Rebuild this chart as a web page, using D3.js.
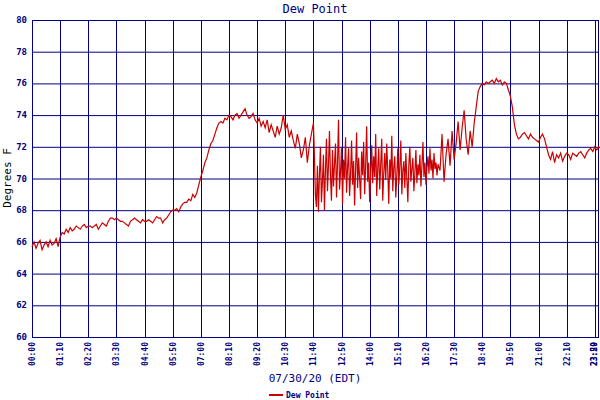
<!DOCTYPE html>
<html><head><meta charset="utf-8">
<script src="https://cdn.jsdelivr.net/npm/d3@7"></script>
<style>body{margin:0;background:#fff}text{font-family:"DejaVu Sans Mono",monospace}</style>
</head><body><svg id="c" width="600" height="400"></svg>
<script>
const xTickLabels=["00:00","01:10","02:20","03:30","04:40","05:50","07:00","08:10","09:20","10:30","11:40","12:50","14:00","15:10","16:20","17:30","18:40","19:50","21:00","22:10","23:20"];
const yTicks=[60,62,64,66,68,70,72,74,76,78,80];
// 5-minute readings, 00:00-11:40
const dewMorning=[65.7,66.0,65.6,65.9,66.1,65.5,65.8,66.0,65.7,66.1,65.8,65.9,66.2,65.7,66.3,
66.6,66.5,66.8,66.6,66.9,66.7,66.8,67.0,66.9,66.8,67.0,67.1,66.9,67.0,
67.0,66.9,67.0,67.1,66.8,67.0,67.2,67.1,67.0,67.3,67.5,67.5,67.4,67.5,
67.4,67.3,67.3,67.2,67.1,67.0,67.3,67.4,67.5,67.4,67.3,67.2,67.4,67.3,
67.3,67.4,67.3,67.2,67.4,67.6,67.5,67.5,67.2,67.4,67.5,67.7,67.9,68.0,
68.0,68.1,67.9,68.2,68.4,68.5,68.5,68.7,68.6,69.0,68.8,69.1,69.6,70.1,
70.5,71.0,71.3,71.8,72.2,72.4,72.8,73.2,73.5,73.6,73.5,73.8,73.7,74.0,
73.9,73.7,74.0,74.1,73.8,74.0,74.2,74.4,74.0,73.8,73.9,74.1,73.7,73.5,
73.8,73.3,73.6,73.2,73.7,72.9,73.4,73.0,72.6,73.3,72.8,73.2,74.0,73.1,
73.4,72.6,73.0,72.4,71.9,72.8,72.2,71.3,71.8,72.6,71.0,72.1,72.8,73.5];
// 2.5-minute readings, 11:42-16:50
const dewNoisy=[71.5,69.0,68.2,70.8,67.9,70.2,72.0,68.5,69.8,71.5,68.0,70.5,72.5,69.2,70.8,73.0,70.1,68.6,71.8,69.5,
70.9,72.2,68.8,71.0,73.7,69.3,70.4,72.0,68.4,71.2,70.0,72.6,69.1,70.7,71.9,68.9,70.3,72.4,69.6,71.1,
68.3,70.6,72.9,69.4,71.3,70.0,68.7,71.7,70.2,72.3,69.0,70.8,73.3,69.8,71.0,68.5,70.4,72.1,69.7,71.4,
70.1,72.8,68.9,70.6,71.9,69.3,70.9,72.5,68.6,70.3,71.6,69.9,72.2,70.5,68.4,71.2,70.0,72.7,69.2,70.7,
71.4,68.8,70.2,71.9,69.6,70.8,72.4,69.0,70.5,71.1,69.4,71.6,70.0,68.5,70.9,72.0,69.8,70.6,71.3,69.2,
70.4,71.8,69.7,70.9,70.2,71.5,69.5,70.8,72.3,70.1,71.0,69.6,70.7,71.4,70.3,71.9,70.5,71.2,70.0,71.6,
70.6,71.0,70.2,70.9];
// 5-minute readings, 16:55-23:30
const dewEvening=[70.5,72.8,69.8,71.5,72.5,70.8,73.0,71.2,72.2,73.6,71.8,
73.2,74.3,72.5,71.5,73.0,72.0,73.5,74.5,75.5,75.8,76.0,75.9,76.1,76.0,
76.1,76.2,76.0,76.3,76.1,76.2,75.9,76.1,76.0,75.6,75.2,74.5,73.4,72.8,72.5,
72.6,72.8,72.9,72.7,72.5,72.8,72.6,72.5,72.4,72.3,72.6,72.8,72.5,72.0,
71.5,71.2,71.7,71.0,71.5,71.3,71.6,71.1,71.4,71.6,71.5,71.2,71.6,71.5,
71.4,71.6,71.7,71.5,71.3,71.6,71.8,71.9,71.7,72.0,71.8,72.0,71.9,72.3];
const data=[];
dewMorning.forEach((v,i)=>data.push([i*5,v]));
dewNoisy.forEach((v,i)=>data.push([702.5+i*2.5,v]));
dewEvening.forEach((v,i)=>data.push([1015+i*5,v]));

const svg=d3.select("#c"), L=32,R=598,T=20,B=337, navy="#000080";
const x=d3.scaleLinear().domain([0,1408]).range([L,R]);
const y=d3.scaleLinear().domain([60,80]).range([B,T]);
const tickMins=xTickLabels.map((s,i)=>i*70);
const g=svg.append("g");
g.selectAll("line.h").data(yTicks).join("line").attr("x1",L).attr("x2",R).attr("y1",d=>y(d)+.5).attr("y2",d=>y(d)+.5).attr("stroke",navy);
g.selectAll("line.v").data(tickMins.concat([1408])).join("line").attr("x1",d=>Math.round(x(d))+.5).attr("x2",d=>Math.round(x(d))+.5).attr("y1",T).attr("y2",B).attr("stroke",navy);
svg.append("rect").attr("x",L+.5).attr("y",T+.5).attr("width",R-L).attr("height",B-T).attr("fill","none").attr("stroke",navy);
svg.append("path").datum(data).attr("fill","none").attr("stroke","#cc0000").attr("stroke-width",1.2)
 .attr("d",d3.line().x(d=>x(d[0])).y(d=>y(d[1])));
svg.selectAll("text.y").data(yTicks).join("text").attr("x",27).attr("y",d=>y(d)+3).attr("text-anchor","end")
 .attr("font-size",9).attr("font-weight","bold").attr("fill",navy).text(d=>d);
const xl=xTickLabels.concat(["23:59"]), xm=tickMins.concat([1408]);
svg.selectAll("text.x").data(xl).join("text").attr("transform",(d,i)=>`translate(${Math.min(x(xm[i])+3,597)},342) rotate(-90)`)
 .attr("text-anchor","end").attr("font-size",8).attr("font-weight","bold").attr("fill",navy).text(d=>d);
svg.append("text").attr("x",315).attr("y",13).attr("text-anchor","middle").attr("font-size",12).attr("fill",navy).text("Dew Point");
svg.append("text").attr("transform","translate(11,178) rotate(-90)").attr("text-anchor","middle").attr("font-size",11).attr("fill","#000").text("Degrees F");
svg.append("text").attr("x",315).attr("y",382).attr("text-anchor","middle").attr("font-size",11).attr("fill",navy).text("07/30/20 (EDT)");
svg.append("line").attr("x1",269).attr("x2",283).attr("y1",395).attr("y2",395).attr("stroke","#cc0000").attr("stroke-width",2);
svg.append("text").attr("x",286).attr("y",398).attr("font-size",8).attr("font-weight","bold").attr("fill",navy).text("Dew Point");
</script></body></html>
